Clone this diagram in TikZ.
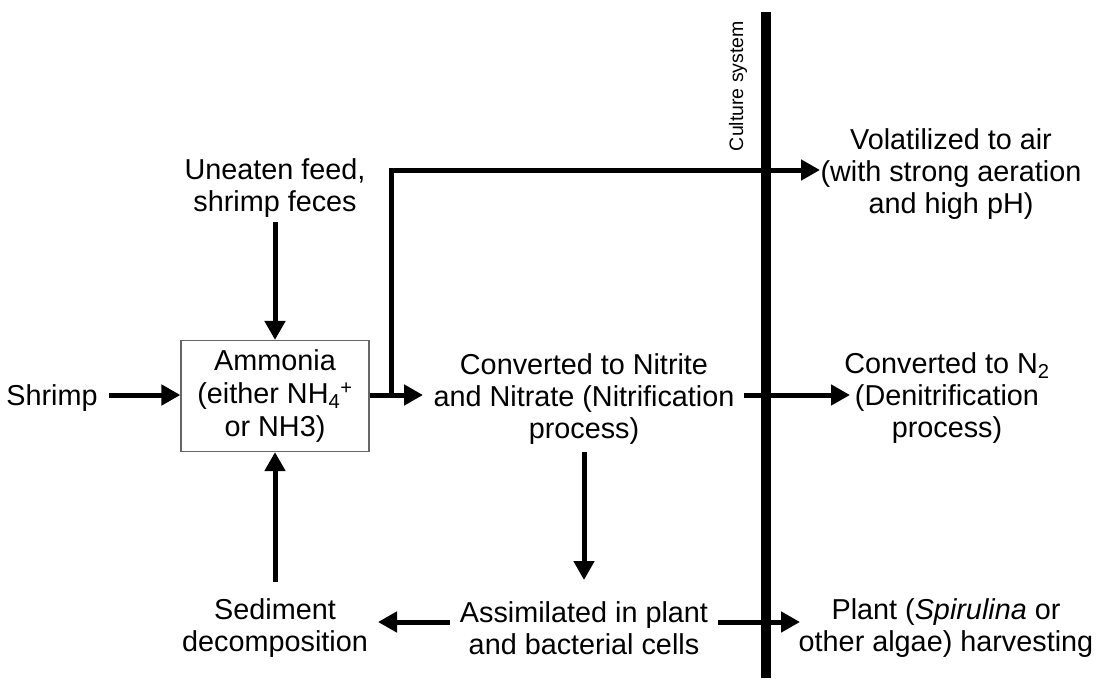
\documentclass[tikz,border=0pt]{standalone}
\usepackage{fontspec}
\setmainfont{Liberation Sans}
\usetikzlibrary{arrows.meta,calc}
\begin{document}
\begin{tikzpicture}[x=1pt,y=-1pt,
  txt/.style={inner sep=0pt,align=center,font=\fontsize{28.8}{32}\selectfont},
  flow/.style={line width=5pt,-{Triangle[length=19pt,width=20pt]}}]
\useasboundingbox (0,0) rectangle (1101,681);
\fill[white] (0,0) rectangle (1101,681);

% system boundary
\coordinate (bartop) at (766,12);
\coordinate (barbot) at (766,678);
\draw[line width=10pt] (bartop) -- (barbot);
\node[inner sep=0pt,rotate=90,font=\fontsize{19.5}{22}\selectfont] (cult) at (738,86) {Culture system};

% nodes
\node[txt] (shrimp) at (52,398) {Shrimp};
\node[draw=black!60,line width=1.2pt,minimum width=188pt,minimum height=111pt,inner sep=0pt,
      align=center,font=\fontsize{28.8}{33}\selectfont] (amm) at (275,396)
  {Ammonia\\(either NH\textsubscript{4}\textsuperscript{+}\\or NH3)};
\node[txt] (feed) at (275,188) {Uneaten feed,\\shrimp feces};
\node[txt] (nit) at (584,399) {Converted to Nitrite\\and Nitrate (Nitrification\\process)};
\node[txt] (vol) at (951,174) {Volatilized to air\\(with strong aeration\\and high pH)};
\node[txt] (den) at (947,398) {Converted to N\textsubscript{2}\\(Denitrification\\process)};
\node[txt] (sed) at (275,628) {Sediment\\decomposition};
\node[txt] (asm) at (584,628) {Assimilated in plant\\and bacterial cells};
\node[txt] (plant) at (946,628) {Plant (\textit{Spirulina} or\\other algae) harvesting};

% arrow end points
\coordinate (shrimpout) at (109,395);
\coordinate (feedout) at (275,222);
\coordinate (sedout) at (275,582);
\coordinate (split) at (391,395);
\coordinate (nitin) at (423,395);
\coordinate (volin) at (820,170);
\coordinate (nitout) at (744,395);
\coordinate (denin) at (850,395);
\coordinate (nitdown) at (584,452);
\coordinate (asmin) at (584,580);
\coordinate (asmleft) at (450,622);
\coordinate (sedin) at (378,622);
\coordinate (asmright) at (718,622);
\coordinate (plantin) at (800,622);

% flows
\draw[flow] (shrimpout) -- (shrimpout -| amm.west);
\draw[flow] (feedout) -- (amm.north);
\draw[flow] (sedout) -- (amm.south);
\draw[flow] (amm.east |- nitin) -- (nitin);
\draw[flow,line join=miter] (split) |- (volin);
\draw[flow] (nitout) -- (denin);
\draw[flow] (nitdown) -- (asmin);
\draw[flow] (asmleft) -- (sedin);
\draw[flow] (asmright) -- (plantin);
\end{tikzpicture}
\end{document}
